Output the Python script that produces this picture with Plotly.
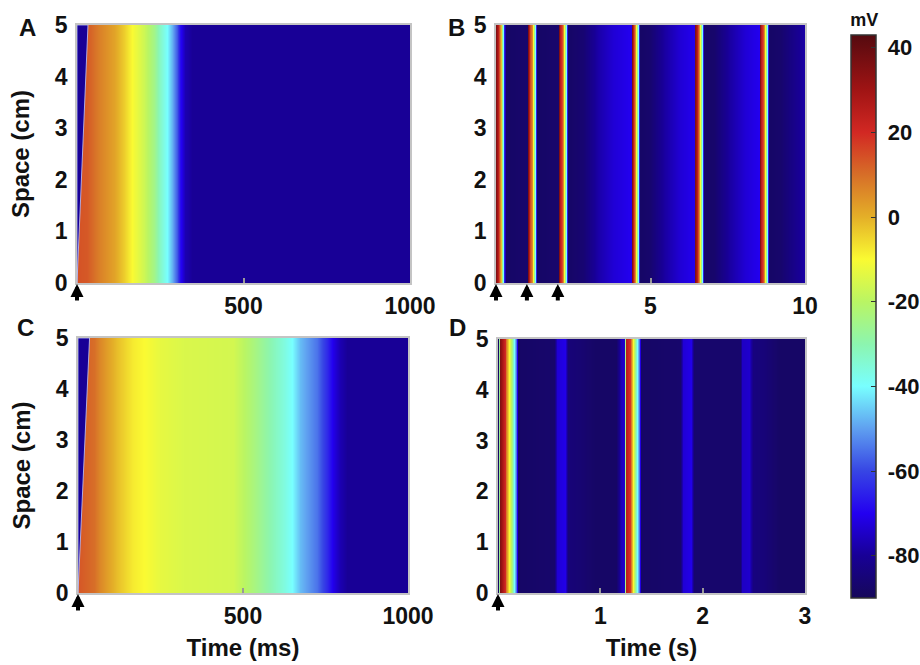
import plotly.graph_objects as go
from plotly.colors import sample_colorscale

# ---------------- data ----------------
space_cm = [0, 5]
space_ticks = [0, 1, 2, 3, 4, 5]

# Panel A: single stimulus, time in ms, membrane potential in mV
A_time_ms = [0, 1, 30, 70, 110, 140, 165, 200, 230, 250, 270, 285, 300, 310, 325, 345, 1000]
A_mV = [-80, 14, 13, 7, 2, -4, -10, -17, -25, -33, -40, -48, -58, -68, -77, -80, -80]
A_front_ms = 33          # activation delay at 5 cm
A_stim_ms = [0]
A_xticks = [500, 1000]

# Panel B: paced then spontaneous beats, time in s
B_time_s = [0.00, 0.015, 0.05, 0.10, 0.14, 0.18, 0.21, 0.24, 0.27, 0.31,
            0.98,
            1.01, 1.025, 1.06, 1.11, 1.15, 1.19, 1.22, 1.25, 1.28, 1.32,
            1.99,
            2.02, 2.035, 2.07, 2.12, 2.16, 2.20, 2.23, 2.26, 2.29, 2.33,
            2.8, 3.3, 3.8,
            4.37, 4.385, 4.42, 4.46, 4.50, 4.54, 4.57, 4.60, 4.63, 4.67,
            4.95, 5.45, 5.95,
            6.44, 6.455, 6.49, 6.53, 6.57, 6.61, 6.64, 6.67, 6.70, 6.74,
            7.05, 7.55, 8.05,
            8.54, 8.555, 8.59, 8.63, 8.67, 8.71, 8.74, 8.77, 8.80, 8.84,
            9.2, 10.0]
B_mV = [-88, 35, 25, 15, 5, -10, -25, -40, -65, -88,
        -87,
        -87, 35, 25, 15, 5, -10, -25, -40, -65, -88,
        -87,
        -87, 35, 25, 15, 5, -10, -25, -40, -65, -88,
        -86, -78, -73,
        -70, 35, 25, 15, 5, -10, -25, -40, -65, -88,
        -87, -79, -73,
        -70, 35, 25, 15, 5, -10, -25, -40, -65, -88,
        -87, -79, -73,
        -70, 35, 25, 15, 5, -10, -25, -40, -65, -88,
        -87, -78]
B_stim_s = [0, 1, 2]
B_xticks = [5, 10]

# Panel C: prolonged action potential, time in ms
C_time_ms = [0, 1, 7, 47, 68, 118, 168, 219, 249, 320, 471, 522, 573, 623, 648, 674, 724, 754, 774, 795, 815, 1000]
C_mV = [-80, 14, 13, 10, 6, -2, -8, -11, -13, -15, -16, -22, -29, -36, -40, -47, -55, -64, -71, -77, -80, -80]
C_front_ms = 35
C_stim_ms = [0]
C_xticks = [500, 1000]

# Panel D: two action potentials with sub-threshold oscillations, time in s
D_time_s = [0.00, 0.02, 0.068, 0.08, 0.11, 0.134, 0.156, 0.18, 0.20,
            0.55, 0.575, 0.655, 0.685, 0.80, 0.95,
            1.15, 1.20, 1.235,
            1.25, 1.29, 1.30, 1.32, 1.34, 1.36, 1.38, 1.40,
            1.78, 1.805, 1.885, 1.915,
            2.36, 2.385, 2.455, 2.49, 2.60, 2.75, 3.00]
D_mV = [-88, 35, 20, 8, -10, -25, -40, -55, -88,
        -87, -73, -71, -85, -86, -88,
        -88, -76, -74,
        25, 18, 8, -10, -25, -40, -55, -88,
        -87, -73, -71, -87,
        -87, -75, -74, -84, -85, -88, -88]
D_stim_s = [0]
D_xticks = [1, 2, 3]

cbar_ticks = [-80, -60, -40, -20, 0, 20, 40]
cbar_ticktext = ['\u00a0-80', '\u00a0-60', '\u00a0-40', '\u00a0-20', '\u00a00', '\u00a020', '\u00a040']
V_MIN, V_MAX = -90, 43

# ---------------- style ----------------
COLORSCALE = [
    [0.000, 'rgb(22,8,90)'],
    [0.075, 'rgb(24,0,150)'],
    [0.150, 'rgb(35,0,240)'],
    [0.226, 'rgb(55,70,228)'],
    [0.301, 'rgb(95,160,240)'],
    [0.376, 'rgb(120,255,255)'],
    [0.451, 'rgb(140,245,175)'],
    [0.526, 'rgb(185,245,100)'],
    [0.602, 'rgb(250,250,50)'],
    [0.677, 'rgb(228,175,40)'],
    [0.752, 'rgb(215,110,40)'],
    [0.827, 'rgb(210,40,35)'],
    [0.902, 'rgb(160,20,20)'],
    [1.000, 'rgb(85,10,15)'],
]
FONT = 'Liberation Sans, Arial, Helvetica, sans-serif'
W, H = 920, 665


def px_x(p):
    return p / W


def px_y(p):
    return 1 - p / H


fig = go.Figure()

panels = [
    # (time, mV, stim, xticks, xrange, axis suffix)
    (A_time_ms, A_mV, A_stim_ms, A_xticks, [0, 1000], ''),
    (B_time_s, B_mV, B_stim_s, B_xticks, [0, 10], '2'),
    (C_time_ms, C_mV, C_stim_ms, C_xticks, [0, 1000], '3'),
    (D_time_s, D_mV, D_stim_s, D_xticks, [0, 3], '4'),
]

for t, v, stim, xt, xr, s in panels:
    fig.add_trace(go.Heatmap(
        x=t, y=space_cm, z=[v, v], coloraxis='coloraxis', zsmooth='best',
        xaxis='x' + s, yaxis='y' + s, hoverinfo='skip'))

# activation front (wave reaching 5 cm later) for A and C
for front, rest, s in [(A_front_ms, A_mV[0], ''), (C_front_ms, C_mV[0], '3')]:
    rest_col = sample_colorscale(COLORSCALE, [(rest - V_MIN) / (V_MAX - V_MIN)])[0]
    fig.add_trace(go.Scatter(
        x=[0, 0, front, 0], y=[space_cm[0], space_cm[1], space_cm[1], space_cm[0]],
        mode='lines', fill='toself', fillcolor=rest_col,
        line=dict(color='rgba(190,200,255,0.8)', width=1),
        xaxis='x' + s, yaxis='y' + s, hoverinfo='skip', showlegend=False))

domains = {
    '': ([77, 410], [25, 283]),
    '2': ([496, 805], [25, 283]),
    '3': ([78, 408], [338, 593]),
    '4': ([498, 805], [339, 593]),
}

layout = dict(
    width=W, height=H,
    margin=dict(l=0, r=0, t=0, b=0, autoexpand=False),
    paper_bgcolor='white', plot_bgcolor='white',
    font=dict(family=FONT, size=23, color='#111', weight='bold'),
    showlegend=False,
    coloraxis=dict(
        colorscale=COLORSCALE, cmin=V_MIN, cmax=V_MAX,
        colorbar=dict(
            x=px_x(851), xanchor='left', xpad=0,
            y=px_y(304), yanchor='middle', ypad=0,
            len=588, lenmode='pixels', thickness=25, thicknessmode='pixels',
            outlinecolor='#333', outlinewidth=1.5,
            tickvals=cbar_ticks, ticktext=cbar_ticktext,
            ticks='inside', ticklen=5, tickcolor='#333',
            tickfont=dict(family=FONT, size=22, color='#111', weight='bold'),
            title=dict(text='mV', side='top',
                       font=dict(family=FONT, size=18, color='#111', weight='bold')),
        ),
    ),
)

for (t, v, stim, xt, xr, s) in panels:
    (x0, x1), (y0, y1) = domains[s]
    layout['xaxis' + s] = dict(
        domain=[px_x(x0), px_x(x1)], range=xr, anchor='y' + s,
        tickvals=xt, ticks='inside', ticklen=5, tickcolor='#999', tickwidth=1.5,
        showline=True, linecolor='#c4c4c4', linewidth=2, mirror=True,
        showgrid=False, zeroline=False, ticklabelstandoff=1, automargin=False,
        tickfont=dict(family=FONT, size=23, color='#111', weight='bold'),
    )
    layout['yaxis' + s] = dict(
        domain=[px_y(y1), px_y(y0)], range=[0, 5], anchor='x' + s,
        tickvals=space_ticks, ticks='',
        showline=True, linecolor='#c4c4c4', linewidth=1.5, mirror=True,
        showgrid=False, zeroline=False, ticklabelstandoff=3, automargin=False,
        tickfont=dict(family=FONT, size=23, color='#111', weight='bold'),
    )

layout['yaxis']['title'] = dict(text='Space (cm)', standoff=18,
                                font=dict(family=FONT, size=24, color='#111', weight='bold'))
layout['yaxis3']['title'] = dict(text='Space (cm)', standoff=18,
                                 font=dict(family=FONT, size=24, color='#111', weight='bold'))
layout['xaxis3']['title'] = dict(text='Time (ms)', standoff=12,
                                 font=dict(family=FONT, size=24, color='#111', weight='bold'))
layout['xaxis4']['title'] = dict(text='Time (s)', standoff=12,
                                 font=dict(family=FONT, size=24, color='#111', weight='bold'))

annotations = []
for letter, (lx, ly) in zip(['A', 'B', 'C', 'D'], [(27, 27), (456, 27), (25, 327), (457, 327)]):
    annotations.append(dict(text=letter, x=px_x(lx), y=px_y(ly), xref='paper', yref='paper',
                            xanchor='center', yanchor='middle', showarrow=False,
                            font=dict(family=FONT, size=24, color='#111', weight='bold')))

for (t, v, stim, xt, xr, s) in panels:
    for ts in stim:
        annotations.append(dict(text='', x=ts, y=0, xref='x' + s, yref='y' + s,
                                showarrow=True, ax=0, ay=19, arrowhead=2, arrowsize=0.65,
                                arrowwidth=4, arrowcolor='black', standoff=1))

layout['annotations'] = annotations
fig.update_layout(**layout)
fig.write_html('out.html', config={'displayModeBar': False},
               post_script="document.body.style.margin='0';document.body.style.overflow='hidden';")
